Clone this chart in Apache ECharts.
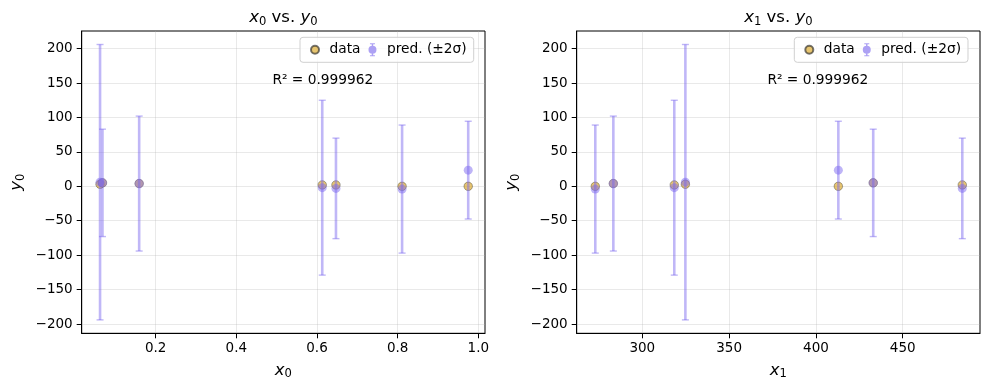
<!DOCTYPE html>
<html>
<head>
<meta charset="utf-8">
<script src="https://cdn.jsdelivr.net/npm/echarts@6/dist/echarts.min.js"></script>
<style>html,body{margin:0;padding:0;background:#fff}#c{width:989px;height:390px}</style>
</head>
<body>
<div id="c"></div>
<script>
// ---- data ----
const x0 = [0.062, 0.068, 0.159, 0.613, 0.647, 0.811, 0.975];
const x1 = [324.8, 433.0, 283.3, 318.4, 484.3, 272.9, 412.9];
const yData = [3, 5, 4, 2, 2, 0, 0];
const yPred = [6, 5, 4, -2, -3, -4, 23.5];
const err2sigma = [200, 78, 98, 127, 73, 93, 71];
const r2Text = 'R\u00b2 = 0.999962';
const x0Ticks = [0.2, 0.4, 0.6, 0.8, 1.0];
const x1Ticks = [300, 350, 400, 450];
const yTicks = [-200, -150, -100, -50, 0, 50, 100, 150, 200];
const x0Range = [0.0165, 1.0166];
const x1Range = [262.2, 494.5];
const yRange = [-213.5, 225.6];

const FONT = 'DejaVu Sans';
const DATA_COLOR = 'rgba(218,165,32,0.8)';
const PRED_COLOR = 'rgba(123,104,238,0.62)';
const BAR_COLOR = 'rgba(123,104,238,0.48)';

const chart = echarts.init(document.getElementById('c'), null, {renderer: 'canvas'});

function mathRich(size) {
  return {
    i: {fontFamily: FONT, fontStyle: 'italic', fontWeight: 'normal', fontSize: size, lineHeight: 20, color: '#000'},
    s: {fontFamily: FONT, fontWeight: 'normal', fontSize: size * 0.7, lineHeight: 10, verticalAlign: 'bottom', color: '#000'},
    n: {fontFamily: FONT, fontWeight: 'normal', fontSize: size, lineHeight: 20, color: '#000'}
  };
}
const yFmt = v => (v < 0 ? '\u2212' + Math.abs(v) : String(v));

const grids = [
  {left: 81.7, top: 31, width: 403.3, height: 302.3},
  {left: 576.7, top: 31, width: 403.3, height: 302.3}
];
const xs = [x0, x1];
const xTicksList = [x0Ticks, x1Ticks];
const xRanges = [x0Range, x1Range];
const xFmts = [v => v.toFixed(1), v => String(v)];

const ICON_DATA = 'path://M0,0 M8,13 M8,6.5 A4,4 0 1 1 0,6.5 A4,4 0 1 1 8,6.5 Z';
const ICON_PRED = 'path://M1.5,0 L6.5,0 L6.5,1 L1.5,1 Z M3.25,0 L4.75,0 L4.75,13 L3.25,13 Z M1.5,12 L6.5,12 L6.5,13 L1.5,13 Z M8,6.5 A4,4 0 1 1 0,6.5 A4,4 0 1 1 8,6.5 Z';

const option = {
  animation: false,
  backgroundColor: '#fff',
  title: [0, 1].map(k => ({
    text: `{i|x}{s|${k}}{n| vs. }{i|y}{s|0}`,
    left: grids[k].left + grids[k].width / 2,
    textAlign: 'center',
    top: 8,
    padding: 0,
    textStyle: {fontWeight: 'normal', rich: mathRich(16.5)}
  })),
  grid: grids.map(g => Object.assign({show: true, borderColor: '#000', borderWidth: 1, containLabel: false}, g)),
  legend: [0, 1].map(k => ({
    left: k === 0 ? 300 : 794.3,
    top: 37.3,
    orient: 'horizontal',
    padding: [5, 7, 5, 10],
    itemGap: 8,
    itemWidth: 19,
    itemHeight: 13,
    backgroundColor: 'rgba(255,255,255,0.8)',
    borderColor: '#d0d0d0',
    borderWidth: 1,
    borderRadius: 3,
    textStyle: {fontFamily: FONT, fontSize: 13.75, color: '#000'},
    data: [
      {name: 'data', icon: ICON_DATA},
      {name: 'pred. (\u00b12\u03c3)', icon: ICON_PRED, itemStyle: {color: PRED_COLOR}}
    ]
  })),
  xAxis: [0, 1].map(k => ({
    type: 'value',
    gridIndex: k,
    min: xRanges[k][0],
    max: xRanges[k][1],
    name: `{i|x}{s|${k}}`,
    nameLocation: 'middle',
    nameGap: 27,
    nameTextStyle: {rich: mathRich(16.5)},
    axisLine: {show: true, onZero: false, lineStyle: {color: '#000', width: 1}},
    axisTick: {show: true, length: 5, customValues: xTicksList[k], lineStyle: {color: '#000', width: 1}},
    axisLabel: {customValues: xTicksList[k], formatter: xFmts[k], margin: 8, fontFamily: FONT, fontSize: 13.5, color: '#000'},
    splitLine: {show: true, lineStyle: {color: 'rgba(176,176,176,0.35)', width: 0.8}}
  })),
  yAxis: [0, 1].map(k => ({
    type: 'value',
    gridIndex: k,
    min: yRange[0],
    max: yRange[1],
    name: '{i|y}{s|0}',
    nameLocation: 'middle',
    nameRotate: 90,
    nameGap: 55,
    nameTextStyle: {rich: mathRich(16.5)},
    axisLine: {show: true, onZero: false, lineStyle: {color: '#000', width: 1}},
    axisTick: {show: true, length: 5, customValues: yTicks, lineStyle: {color: '#000', width: 1}},
    axisLabel: {customValues: yTicks, formatter: yFmt, margin: 9, fontFamily: FONT, fontSize: 13.5, color: '#000'},
    splitLine: {show: true, lineStyle: {color: 'rgba(176,176,176,0.35)', width: 0.8}}
  })),
  graphic: [0, 1].map(k => ({
    type: 'text',
    x: grids[k].left + grids[k].width * 0.598,
    y: 80,
    style: {text: r2Text, font: '13.75px "DejaVu Sans"', fill: '#000', textAlign: 'center', textVerticalAlign: 'middle'},
    z: 100
  })),
  series: []
};

[0, 1].forEach(k => {
  const xv = xs[k];
  option.series.push({
    name: 'data',
    type: 'scatter',
    xAxisIndex: k, yAxisIndex: k,
    symbol: 'circle',
    symbolSize: 8.5,
    itemStyle: {color: DATA_COLOR, borderColor: 'rgba(40,40,40,0.8)', borderWidth: 0.6},
    data: xv.map((x, i) => [x, yData[i]]),
    z: 2
  });
  option.series.push({
    name: 'pred. (\u00b12\u03c3)',
    type: 'custom',
    xAxisIndex: k, yAxisIndex: k,
    encode: {x: 0, y: [1, 2]},
    itemStyle: {color: PRED_COLOR},
    data: xv.map((x, i) => [x, yPred[i] - err2sigma[i], yPred[i] + err2sigma[i]]),
    renderItem: (params, api) => {
      const x = api.value(0);
      const lo = api.coord([x, api.value(1)]);
      const hi = api.coord([x, api.value(2)]);
      const cap = 3.5;
      const lw = 2.6;
      const st = {fill: BAR_COLOR};
      return {
        type: 'group',
        children: [
          {type: 'rect', shape: {x: hi[0] - lw / 2, y: hi[1], width: lw, height: lo[1] - hi[1]}, style: st},
          {type: 'rect', shape: {x: lo[0] - cap, y: lo[1] - 0.7, width: 2 * cap, height: 1.4}, style: st},
          {type: 'rect', shape: {x: hi[0] - cap, y: hi[1] - 0.7, width: 2 * cap, height: 1.4}, style: st}
        ]
      };
    },
    z: 3
  });
  option.series.push({
    name: 'pred. (\u00b12\u03c3)',
    type: 'scatter',
    xAxisIndex: k, yAxisIndex: k,
    symbol: 'circle',
    symbolSize: 9,
    itemStyle: {color: PRED_COLOR},
    data: xv.map((x, i) => [x, yPred[i]]),
    z: 4
  });
});

chart.setOption(option);
</script>
</body>
</html>
